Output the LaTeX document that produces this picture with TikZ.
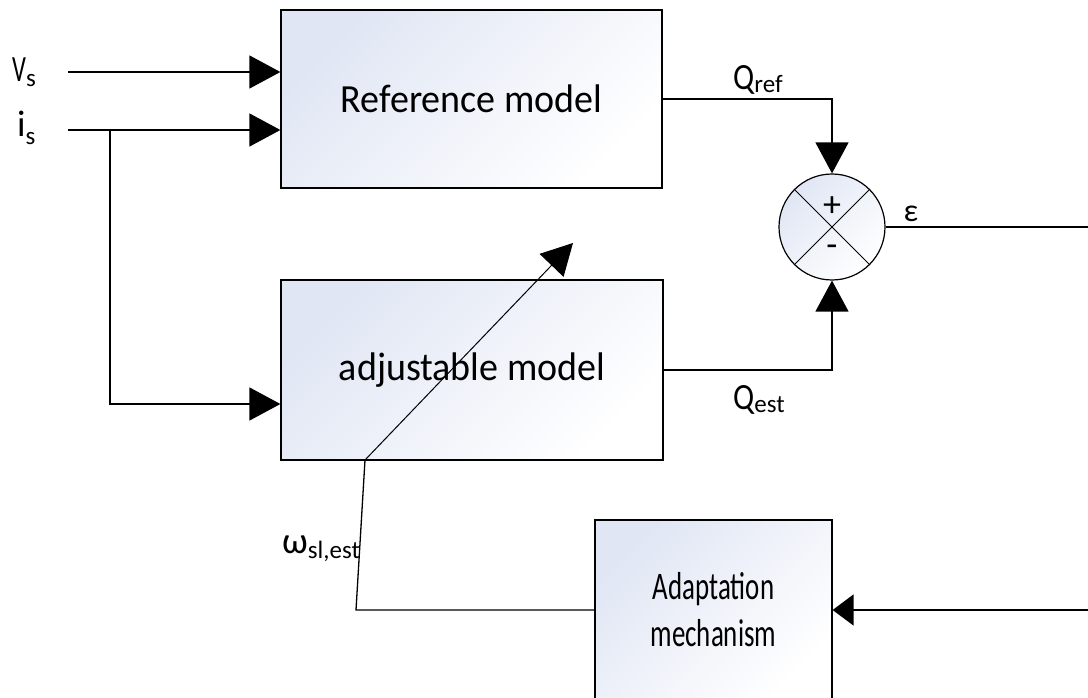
\documentclass[tikz,border=0pt]{standalone}
\usepackage{fontspec}
\usepackage{graphicx}
\setmainfont{Carlito}
\usetikzlibrary{arrows.meta}
\definecolor{boxtop}{RGB}{224,230,244}
% #1 main, #2 sub, #3 drop, #4 xscale of main
\newcommand\sublab[4]{\scalebox{#4}[1]{\fontsize{37}{37}\selectfont #1}{\fontsize{25}{25}\selectfont\raisebox{-#3pt}{#2}}}
\tikzset{
  gshade/.style={shading=axis, top color=boxtop, bottom color=white, shading angle=45},
  blk/.style={draw, line width=1.2pt, gshade,
    font=\fontsize{38}{47}\selectfont, align=center, inner sep=0pt},
  wire/.style={line width=1.3pt},
  big/.style={-{Triangle[length=31pt,width=33pt]}},
  lbl/.style={inner sep=0pt, anchor=base west},
}
\begin{document}
\begin{tikzpicture}[x=1pt,y=-1pt]
\useasboundingbox (0,0) rectangle (1088,698);
\clip (0,0) rectangle (1088,698);
\node[blk, minimum width=381pt, minimum height=178pt] (ref) at (471.5,99) {\scalebox{1}[1.05]{Reference model}};
\node[blk, minimum width=382pt, minimum height=180pt] (adj) at (472,370) {\scalebox{1}[1.05]{adjustable model}};
\node[blk, minimum width=237pt, minimum height=180pt, font=\fontsize{39}{47}\selectfont] (ada) at (713.5,610) {\scalebox{0.69}[1]{Adaptation}\\\scalebox{0.69}[1]{mechanism}};
\node[circle, draw, line width=1.2pt, minimum size=106pt, inner sep=0pt, gshade] (sum) at (832,227) {};
\draw[line width=1pt] (sum.north west) -- (sum.south east);
\draw[line width=1pt] (sum.north east) -- (sum.south west);
\node[inner sep=0pt, font=\fontsize{36}{36}\selectfont] (plus) at (832,207) {+};
\node[inner sep=0pt, font=\fontsize{36}{36}\selectfont] (minus) at (832,251) {-};
% inputs
\coordinate (vsin) at (68,72);
\coordinate (isin) at (68,130);
\coordinate (br) at (110,130);
\draw[wire, big] (vsin) -- (vsin -| ref.west);
\draw[wire, big] (isin) -- (isin -| ref.west);
\draw[wire, big] (br) -- (110,404) -- (adj.west |- 0,404);
\node[lbl] (vs) at (12,82) {\sublab{V}{s}{5}{0.66}};
\node[lbl] (is) at (17,137) {\sublab{i}{s}{8}{1}};
% outputs to summing junction
\draw[wire, big] (ref.east) -- (sum.north |- ref.east) -- (sum.north);
\draw[wire, big] (adj.east) -- (sum.south |- adj.east) -- (sum.south);
\node[lbl] (qref) at (733,90) {\sublab{Q}{ref}{3}{0.85}};
\node[lbl] (qest) at (733,409) {\sublab{Q}{est}{3}{0.85}};
% error
\coordinate (eout) at (1090,227);
\draw[wire] (sum.east) -- (eout);
\node[inner sep=0pt, font=\fontsize{32}{32}\selectfont] (eps) at (911,214) {ε};
% into adaptation
\coordinate (ain) at (1090,610);
\draw[wire, -{Triangle[length=21pt,width=31pt]}] (ain) -- (ada.east);
% feedback
\coordinate (fb) at (356,610);
\coordinate (fbtop) at (365,460);
\coordinate (tip) at (573,243);
\draw[wire] (ada.west) -- (fb) -- (fbtop);
\draw[line width=1pt, big] (fbtop) -- (tip);
\node[lbl] (om) at (282,553) {\sublab{ω}{sl,est}{5}{1}};
\end{tikzpicture}
\end{document}
